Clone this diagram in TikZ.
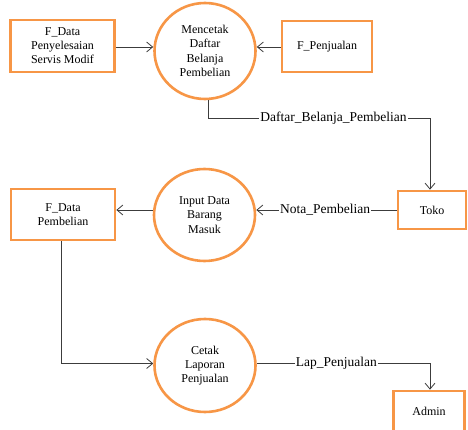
\documentclass[tikz,border=0pt]{standalone}
\usepackage{fontspec}
\setmainfont{Liberation Serif}
\usetikzlibrary{shapes.geometric,arrows.meta}
\definecolor{dfdorange}{HTML}{F79646}
\definecolor{dfdline}{HTML}{3C3C3C}
\tikzset{
  entity/.style={draw=dfdorange, line width=2.6pt, fill=white, align=center,
    font=\fontsize{12}{14}\selectfont, inner sep=2pt},
  process/.style={ellipse, draw=dfdorange, line width=2.6pt, fill=white, align=center,
    font=\fontsize{12}{14.3}\selectfont, inner sep=0pt},
  flow/.style={draw=dfdline, line width=0.8pt,
    -{Straight Barb[length=6pt,width=10pt,line width=0.8pt]}},
  flowlabel/.style={fill=white, inner sep=1pt, font=\fontsize{13.5}{15}\selectfont}
}
\begin{document}
\begin{tikzpicture}[x=1pt,y=-1pt]
  \useasboundingbox (0,0) rectangle (468,430);
  \clip (0,0) rectangle (468,430);

  % external entities and data stores
  \node[entity, minimum width=104pt, minimum height=52pt] (fdps) at (62.5,46)
    {F\_Data\\Penyelesaian\\Servis Modif};
  \node[entity, minimum width=90pt, minimum height=51pt] (fpenj) at (327,46.5)
    {F\_Penjualan};
  \node[entity, minimum width=68pt, minimum height=38pt] (toko) at (432,210)
    {Toko};
  \node[entity, minimum width=104pt, minimum height=51pt] (fdpb) at (63,214.5)
    {F\_Data\\Pembelian};
  \node[entity, minimum width=71pt, minimum height=40pt] (admin) at (429,411)
    {Admin};

  % processes
  \node[process, minimum width=101pt, minimum height=96pt] (cetakdaftar) at (205,51)
    {Mencetak\\Daftar\\Belanja\\Pembelian};
  \node[process, minimum width=101pt, minimum height=92pt] (inputdata) at (204.5,215)
    {Input Data\\Barang\\Masuk};
  \node[process, minimum width=101pt, minimum height=93pt] (cetaklap) at (205,365.5)
    {Cetak\\Laporan\\Penjualan};

  % bend points
  \coordinate (d1) at (208,118);
  \coordinate (d2) at (430,118);
  \coordinate (l1) at (430,363.5);

  % data flows
  \draw[flow] (fdps.east |- 0,47) -- (cetakdaftar.west |- 0,47);
  \draw[flow] (fpenj.west |- 0,47) -- (cetakdaftar.east |- 0,47);
  \draw[flow] (cetakdaftar.south -| d1) -- (d1)
    -- node[flowlabel, pos=0.565] {Daftar\_Belanja\_Pembelian} (d2)
    -- (d2 |- toko.north);
  \draw[flow] (toko.west) -- node[flowlabel, pos=0.51] {Nota\_Pembelian}
    (toko.west -| inputdata.east);
  \draw[flow] (inputdata.west |- toko.west) -- (fdpb.east |- toko.west);
  \draw[flow] (fdpb.south -| 61,0) |- (cetaklap.west |- l1);
  \draw[flow] (cetaklap.east |- l1) -- node[flowlabel, pos=0.46] {Lap\_Penjualan} (l1)
    -- (l1 |- admin.north);
\end{tikzpicture}
\end{document}
